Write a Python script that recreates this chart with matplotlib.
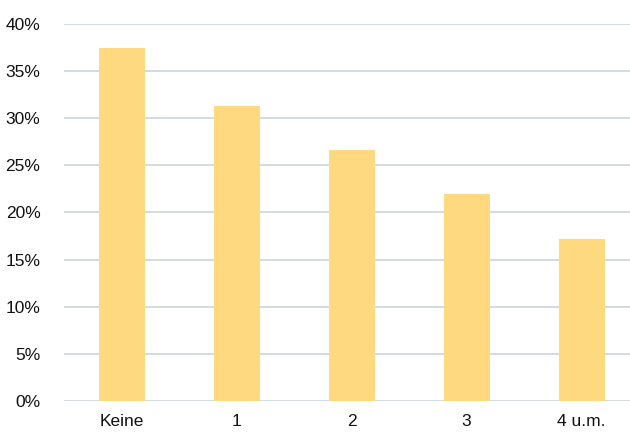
import numpy as np
from matplotlib import pyplot as plt
from matplotlib.ticker import FuncFormatter

plt.rcParams['font.family'] = ['Liberation Sans', 'DejaVu Sans']

categories = ["Keine", "1", "2", "3", "4 u.m."]
values = [37.5, 31.3, 26.6, 22.0, 17.2]

BarColor = "#FFD980"
GridColor = "#C8D7DE"

fig = plt.figure(figsize=(6.3, 4.32), dpi=100)
ax = fig.add_axes([64 / 630, 31 / 432, (630 - 64) / 630, 377 / 432])

x = np.arange(len(categories))
ax.bar(x, values, width=0.4, color=BarColor, zorder=3)

ax.set_ylim(0, 40)
ax.set_yticks(range(0, 41, 5))
ax.yaxis.set_major_formatter(FuncFormatter(lambda v, p: "%d%%" % v))
ax.set_xlim(-0.5, 4.42)
ax.set_xticks(x)
ax.set_xticklabels(categories)

ax.grid(axis="y", color=GridColor, linewidth=1.2, zorder=0)
for s in ax.spines.values():
    s.set_visible(False)
ax.tick_params(axis="both", length=0, labelsize=12.5, colors="#111111")
ax.tick_params(axis="y", pad=17)
ax.tick_params(axis="x", pad=9)

fig.savefig("out.png", dpi=100)
